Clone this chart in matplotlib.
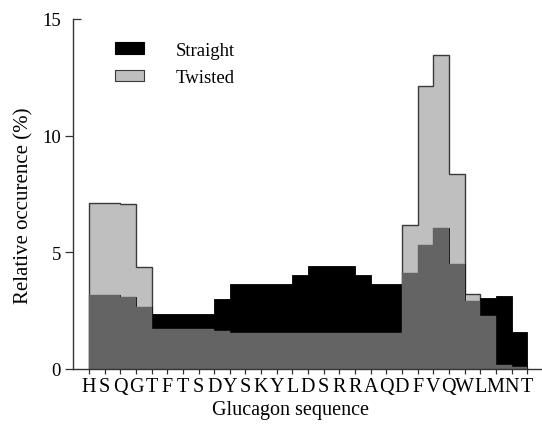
import numpy as np
import matplotlib
matplotlib.use('Agg')
import matplotlib.pyplot as plt
from matplotlib.patches import Patch
from matplotlib import lines as mlines

# glucagon residues, one tick per residue
residues = ['H', 'S', 'Q', 'G', 'T', 'F', 'T', 'S', 'D', 'Y', 'S', 'K', 'Y', 'L',
            'D', 'S', 'R', 'R', 'A', 'Q', 'D', 'F', 'V', 'Q', 'W', 'L', 'M', 'N', 'T']

# relative occurence (%) between consecutive residues
straight = [3.19, 3.19, 3.10, 2.67, 2.34, 2.34, 2.34, 2.34, 3.02, 3.66, 3.66, 3.66,
            3.66, 4.04, 4.42, 4.42, 4.42, 4.04, 3.66, 3.66, 4.11, 5.33, 6.04, 4.50,
            2.93, 3.03, 3.14, 1.57]
twisted = [7.11, 7.11, 7.07, 4.39, 1.71, 1.71, 1.71, 1.71, 1.63, 1.53, 1.53, 1.53,
           1.53, 1.53, 1.53, 1.53, 1.53, 1.53, 1.53, 1.53, 6.17, 12.11, 13.46, 8.36,
           3.21, 2.29, 0.17, 0.07]

c_straight = 'black'
c_twisted = '#bfbfbf'
c_both = '#646464'
c_edge = '#3a3a3a'

plt.rcParams['font.family'] = ['Liberation Serif', 'DejaVu Serif']

fig = plt.figure(figsize=(5.42, 4.27), dpi=100)
ax = fig.add_axes([0.1353, 0.1335, 0.8633, 0.8197])

edges = np.arange(len(residues))
ax.stairs(twisted, edges, fill=True, facecolor=c_twisted, edgecolor=c_edge, lw=1.0)
ax.stairs(straight, edges, fill=True, facecolor=c_straight, edgecolor=c_straight, lw=0.6)
ax.stairs(np.minimum(straight, twisted), edges, fill=True, facecolor=c_both,
          edgecolor=c_both, lw=0.3)

ax.set_xlim(-1.0, 28.9)
ax.set_ylim(0, 15)

ax.set_xticks(edges)
ax.set_xticklabels(residues)
ax.set_yticks([0, 5, 10, 15])

for s in ['top', 'right']:
    ax.spines[s].set_visible(False)
for s in ['left', 'bottom']:
    ax.spines[s].set_color('#333333')
    ax.spines[s].set_linewidth(1.0)

ax.tick_params(axis='x', direction='out', length=3.5, width=0.9, color='#333333',
               labelsize=14.5, pad=2.5)
ax.tick_params(axis='y', direction='out', length=6, width=0.9, color='#333333',
               labelsize=13.5, pad=3)
# top tick points into the plot
ax.yaxis.get_major_ticks()[-1].tick1line.set_marker(mlines.TICKRIGHT)

ax.set_xlabel('Glucagon sequence', fontsize=14.5)
ax.set_ylabel('Relative occurence (%)', fontsize=15)
ax.xaxis.set_label_coords(0.465, -0.088)
ax.yaxis.set_label_coords(-0.086, 0.47)

handles = [Patch(facecolor=c_straight, edgecolor=c_straight, lw=0.8, label='Straight'),
           Patch(facecolor=c_twisted, edgecolor=c_edge, lw=0.8, label='Twisted')]
ax.legend(handles=handles, loc='upper left', bbox_to_anchor=(0.054, 0.983),
          frameon=False, fontsize=13.5, handlelength=1.5, handleheight=0.6,
          handletextpad=1.7, labelspacing=0.55)

fig.savefig('out.png', dpi=100)
